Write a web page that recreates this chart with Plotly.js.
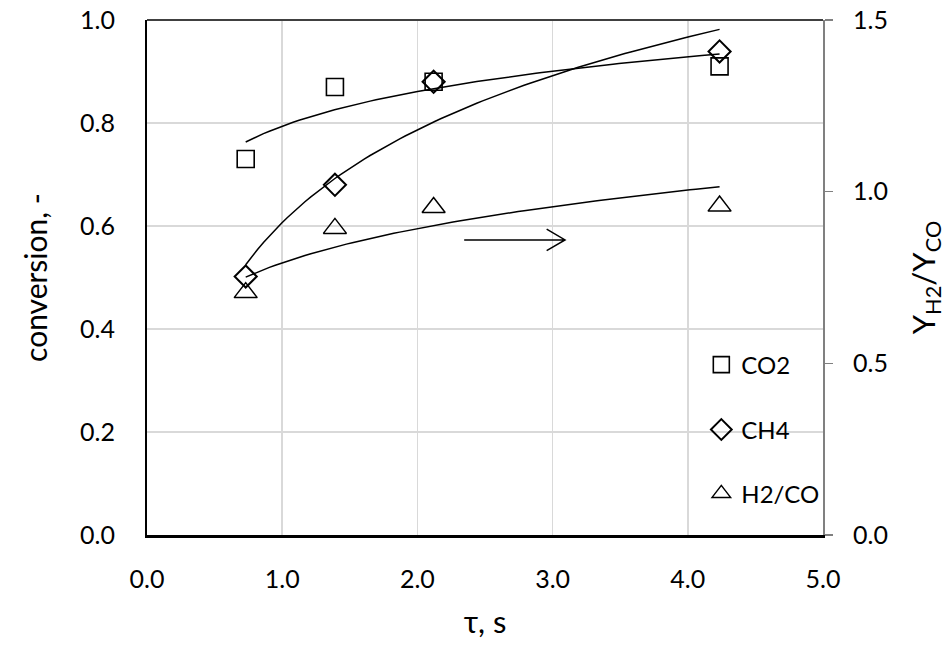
<!DOCTYPE html>
<html>
<head>
<meta charset="utf-8">
<script src="https://cdn.plot.ly/plotly-3.0.1.min.js"></script>
<style>
  html, body { margin: 0; padding: 0; background: #fff; }
  #chart { width: 952px; height: 652px; }
</style>
</head>
<body>
<div id="chart"></div>
<script>
// Residence time tau (s) for the four runs
const tau = [0.73, 1.39, 2.12, 4.235];
// Conversions (left axis)
const co2Conversion = [0.730, 0.870, 0.880, 0.910];
const ch4Conversion = [0.502, 0.680, 0.880, 0.939];
// Product ratio Y_H2 / Y_CO (right axis)
const h2coRatio = [0.706, 0.893, 0.954, 0.958];

// Tick values of the three axes
const xTicks = [0, 1, 2, 3, 4, 5];
const yLeftTicks = [0, 0.2, 0.4, 0.6, 0.8, 1.0];
const yRightTicks = [0, 0.5, 1.0, 1.5];

// Least-squares trendlines: y = a + b ln(x) and y = a x^b
function logFit(xs, ys) {
  const lx = xs.map(Math.log);
  const mx = lx.reduce((s, v) => s + v, 0) / lx.length;
  const my = ys.reduce((s, v) => s + v, 0) / ys.length;
  let sxy = 0, sxx = 0;
  lx.forEach((v, i) => { sxy += (v - mx) * (ys[i] - my); sxx += (v - mx) * (v - mx); });
  const b = sxy / sxx, a = my - b * mx;
  return x => a + b * Math.log(x);
}
function powerFit(xs, ys) {
  const f = logFit(xs, ys.map(Math.log));
  return x => Math.exp(f(x));
}
function curve(fn, xs, n) {
  const x0 = Math.min(...xs), x1 = Math.max(...xs);
  const cx = [], cy = [];
  for (let i = 0; i <= n; i++) {
    const x = x0 + (x1 - x0) * i / n;
    cx.push(x); cy.push(fn(x));
  }
  return { x: cx, y: cy };
}

const co2Trend = curve(logFit(tau, co2Conversion), tau, 80);
const ch4Trend = curve(logFit(tau, ch4Conversion), tau, 80);
const h2coTrend = curve(powerFit(tau, h2coRatio), tau, 80);

const trendLine = { color: '#000', width: 1.5 };

const traces = [
  { x: co2Trend.x, y: co2Trend.y, mode: 'lines', line: trendLine, showlegend: false, hoverinfo: 'skip' },
  { x: ch4Trend.x, y: ch4Trend.y, mode: 'lines', line: trendLine, showlegend: false, hoverinfo: 'skip' },
  { x: h2coTrend.x, y: h2coTrend.y, yaxis: 'y2', mode: 'lines', line: trendLine, showlegend: false, hoverinfo: 'skip' },
  { x: tau, y: co2Conversion, name: 'CO2', mode: 'markers', legend: 'legend',
    marker: { symbol: 'square-open', size: 17, color: '#000', line: { width: 1.6 } } },
  { x: tau, y: ch4Conversion, name: 'CH4', mode: 'markers', legend: 'legend2',
    marker: { symbol: 'diamond-open', size: 17, color: '#000', line: { width: 2 } } },
  { x: tau, y: h2coRatio, name: 'H2/CO', mode: 'markers', yaxis: 'y2', legend: 'legend3',
    marker: { symbol: 'triangle-up-open', size: 20, color: '#000', line: { width: 1.5 } } }
];

const legendBase = {
  x: 0.82, xanchor: 'left', yanchor: 'middle',
  bgcolor: 'rgba(0,0,0,0)', borderwidth: 0,
  font: { family: 'Lato, sans-serif', size: 24, color: '#000' },
  itemwidth: 30
};

const layout = {
  width: 952, height: 652,
  margin: { l: 147, r: 129, t: 20, b: 117, pad: 0 },
  paper_bgcolor: '#fff', plot_bgcolor: '#fff',
  font: { family: 'Lato, sans-serif', size: 24, color: '#000' },
  xaxis: {
    range: [0, 5], tickvals: xTicks, tickformat: '.1f',
    showgrid: true, gridcolor: '#d9d9d9', gridwidth: 1.5, zeroline: false,
    showline: true, linecolor: '#000', linewidth: 2.5, ticks: '',
    tickfont: { size: 25 }, ticklabelstandoff: 20,
    title: { text: 'τ, s', font: { size: 31 }, standoff: 20 }
  },
  yaxis: {
    range: [0, 1], tickvals: yLeftTicks, tickformat: '.1f',
    showgrid: true, gridcolor: '#d9d9d9', gridwidth: 1.5, zeroline: false,
    showline: true, linecolor: '#000', linewidth: 2, ticks: '',
    tickfont: { size: 25 }, ticklabelstandoff: 25,
    title: { text: 'conversion, -', font: { size: 30 }, standoff: 24 }
  },
  yaxis2: {
    overlaying: 'y', side: 'right',
    range: [0, 1.5], tickvals: yRightTicks, tickformat: '.1f',
    showgrid: false, zeroline: false,
    showline: true, linecolor: '#808080', linewidth: 2,
    ticks: 'outside', ticklen: 8, tickwidth: 1.5, tickcolor: '#808080',
    tickfont: { size: 25 }, ticklabelstandoff: 15,
    title: { text: 'Y<sub>H2</sub>/Y<sub>CO</sub>', font: { size: 31 }, standoff: 26 }
  },
  legend: Object.assign({}, legendBase, { y: 0.330 }),
  legend2: Object.assign({}, legendBase, { y: 0.204 }),
  legend3: Object.assign({}, legendBase, { y: 0.080 }),
  shapes: [
    // top frame of the plot area
    { type: 'line', xref: 'paper', yref: 'paper', x0: 0, x1: 1, y0: 1, y1: 1,
      line: { color: '#404040', width: 2 } },
    // arrow pointing toward the right-hand axis
    { type: 'path', xref: 'x', yref: 'y',
      path: 'M2.346,0.573 L3.092,0.573 M2.956,0.594 L3.092,0.573 L2.956,0.552',
      line: { color: '#000', width: 1.5 } }
  ],
  showlegend: true
};

Plotly.newPlot('chart', traces, layout, { staticPlot: true, displayModeBar: false });
</script>
</body>
</html>
